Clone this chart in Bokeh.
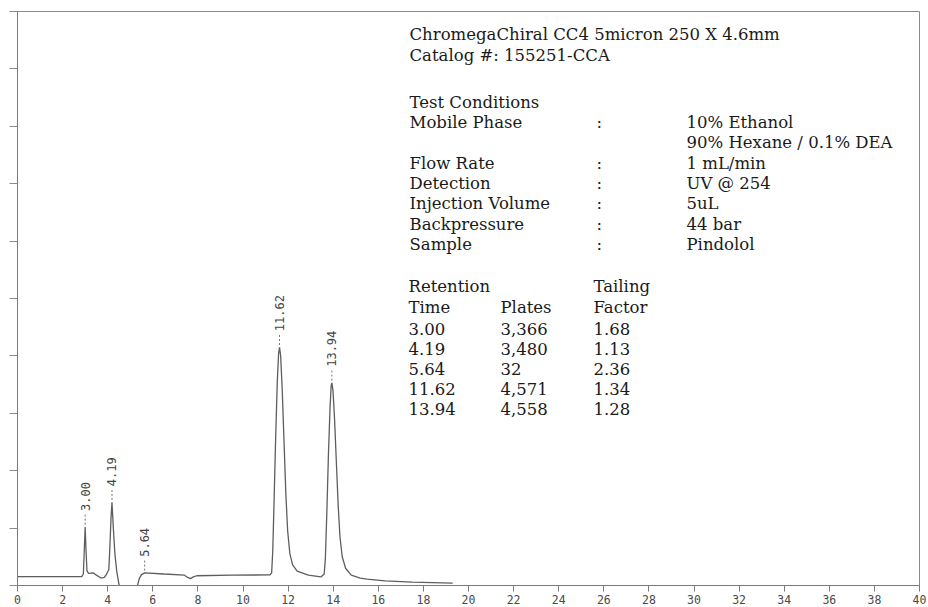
from bokeh.plotting import figure
from bokeh.models import Range1d, FixedTicker, Label
from bokeh.core.properties import value
from bokeh.embed import file_html
from bokeh.resources import INLINE
import math

# ---- data ----
trace_time = [0.0, 2.85, 2.92, 2.96, 3.00, 3.04, 3.08, 3.15, 3.35, 3.50, 3.70, 3.85, 3.95,
              4.05, 4.10, 4.15, 4.19, 4.25, 4.32, 4.40, 4.50, 4.56, 4.70, 5.20, 5.32, 5.40,
              5.50, 5.64, 6.50, 7.40, 7.55, 7.67, 7.80, 7.95, 9.50, 11.20,
              11.27, 11.32, 11.38, 11.45, 11.52, 11.58, 11.62, 11.67, 11.74, 11.82, 11.90,
              11.98, 12.08, 12.20, 12.40, 12.90, 13.45,
              13.60, 13.65, 13.72, 13.79, 13.86, 13.91, 13.94, 13.99, 14.06, 14.14, 14.22,
              14.30, 14.40, 14.55, 14.80, 15.20, 15.50, 16.30, 17.50, 19.30]
trace_signal = [0.155, 0.155, 0.20, 0.60, 1.02, 0.60, 0.26, 0.21, 0.22, 0.18, 0.13, 0.14, 0.20,
                0.28, 0.70, 1.20, 1.45, 1.00, 0.55, 0.25, 0.02, -0.10, -0.20, -0.20, 0.00, 0.12,
                0.19, 0.22, 0.20, 0.18, 0.14, 0.12, 0.15, 0.17, 0.18, 0.185,
                0.22, 0.60, 1.50, 2.60, 3.55, 4.05, 4.15, 4.00, 3.40, 2.50, 1.60,
                0.95, 0.55, 0.36, 0.25, 0.18, 0.15,
                0.20, 0.45, 1.30, 2.30, 3.10, 3.48, 3.53, 3.40, 2.90, 2.15, 1.40,
                0.85, 0.50, 0.30, 0.18, 0.13, 0.11, 0.08, 0.06, 0.04]

peak_times = [3.00, 4.19, 5.64, 11.62, 13.94]
peak_heights = [1.02, 1.45, 0.22, 4.15, 3.53]
peak_labels = ["3.00", "4.19", "5.64", "11.62", "13.94"]

x_ticks = list(range(0, 41, 2))
y_ticks = list(range(0, 11))

header_lines = ["ChromegaChiral CC4 5micron 250 X 4.6mm", "Catalog #: 155251-CCA"]
cond_title = "Test Conditions"
cond_names = ["Mobile Phase", "", "Flow Rate", "Detection", "Injection Volume",
              "Backpressure", "Sample"]
cond_colons = [":", "", ":", ":", ":", ":", ":"]
cond_values = ["10% Ethanol", "90% Hexane / 0.1% DEA", "1 mL/min", "UV @ 254", "5uL",
               "44 bar", "Pindolol"]
table_head1 = ["Retention", "", "Tailing"]
table_head2 = ["Time", "Plates", "Factor"]
ret_times = ["3.00", "4.19", "5.64", "11.62", "13.94"]
plates = ["3,366", "3,480", "32", "4,571", "4,558"]
tailing = ["1.68", "1.13", "2.36", "1.34", "1.28"]

# ---- figure ----
W, H = 928, 607
BL, BR, BT, BB = 17, 9, 11, 22
p = figure(width=W, height=H, x_range=Range1d(0, 40), y_range=Range1d(0, 10),
           output_backend="svg", toolbar_location=None,
           min_border_left=BL, min_border_right=BR, min_border_top=BT, min_border_bottom=BB)
p.background_fill_color = "white"
p.border_fill_color = "white"
p.xgrid.grid_line_color = None
p.ygrid.grid_line_color = None
p.outline_line_color = "#8a8a8a"
p.outline_line_width = 1

xa = p.xaxis[0]
xa.ticker = FixedTicker(ticks=x_ticks)
xa.minor_tick_line_color = None
xa.major_tick_out = 6
xa.major_tick_in = 0
xa.axis_line_color = "#7a7a7a"
xa.major_tick_line_color = "#7a7a7a"
xa.major_label_text_font = "DejaVu Sans Mono"
xa.major_label_text_font_size = "11.5px"
xa.major_label_text_color = "#4a4a4a"
xa.major_label_standoff = 3

ya = p.yaxis[0]
ya.ticker = FixedTicker(ticks=y_ticks)
ya.minor_tick_line_color = None
ya.major_tick_out = 8
ya.major_tick_in = 0
ya.axis_line_color = "#7a7a7a"
ya.major_tick_line_color = "#8a8a8a"
ya.major_label_text_font_size = "0px"
ya.major_label_overrides = {t: "" for t in y_ticks}

# trace
p.line(trace_time, trace_signal, line_color="#5e5e5e", line_width=1.3)

# peak labels with dashed leaders
p.segment(x0=peak_times, y0=[h + 0.04 for h in peak_heights],
          x1=peak_times, y1=[h + 0.24 for h in peak_heights],
          line_color="#777777", line_width=1, line_dash="2 2")
p.text(x=peak_times, y=[h + 0.28 for h in peak_heights], text=peak_labels,
       angle=math.pi / 2, text_font=value("DejaVu Sans Mono"), text_font_size="12px",
       text_align="left", text_baseline="middle", text_color="#444444")

# ---- annotation block (positions in screen pixels converted to data) ----
frame_w = W - BL - BR
frame_h = H - BT - BB
def px_x(x):
    return (x - BL) / frame_w * 40.0
def px_y(y):
    return (H - BB - y) / frame_h * 10.0

FONT = "DejaVu Serif"
FS = "16.5px"
COL = "#1a1a1a"
def put(txt, x, y):
    if txt:
        p.add_layout(Label(x=px_x(x), y=px_y(y), text=txt, text_font=FONT,
                           text_font_size=FS, text_color=COL, text_align="left",
                           text_baseline="middle"))

X0, XC, XV = 409, 596, 686
LS = 20.4
put(header_lines[0], X0, 33.5)
put(header_lines[1], X0, 54.5)
put(cond_title, X0, 101.5)
for i in range(len(cond_names)):
    y = 121.8 + i * LS
    put(cond_names[i], X0, y)
    put(cond_colons[i], XC, y)
    put(cond_values[i], XV, y)

TX = [408, 500, 593]
for j in range(3):
    put(table_head1[j], TX[j], 286)
    put(table_head2[j], TX[j], 306.5)
for i in range(len(ret_times)):
    y = 328 + i * 20.0
    put(ret_times[i], TX[0], y)
    put(plates[i], TX[1], y)
    put(tailing[i], TX[2], y)

open("out.html", "w").write(file_html(p, INLINE))
